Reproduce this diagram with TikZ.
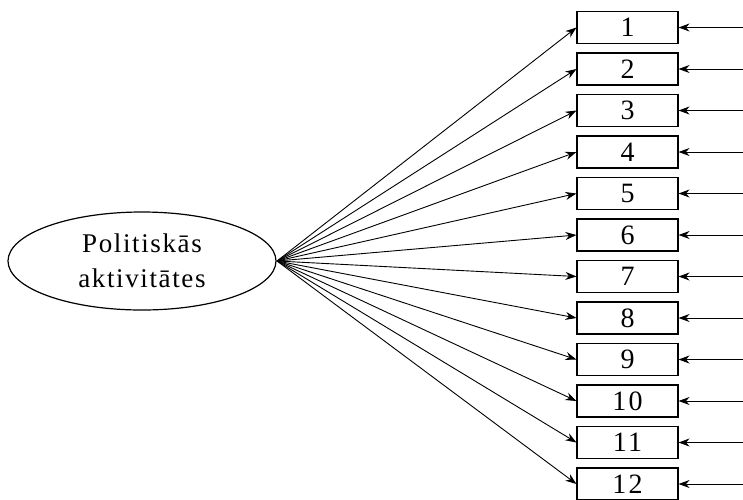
\documentclass[tikz,border=0pt]{standalone}
\usepackage{fontspec}
\setmainfont{Liberation Serif}
\newfontfamily\spaced[LetterSpace=9]{Liberation Serif}
\newfontfamily\spacedlat[LetterSpace=6]{Liberation Serif}
\usetikzlibrary{arrows.meta,shapes.geometric}
\begin{document}
\begin{tikzpicture}[x=1pt,y=-1pt,
  item/.style={draw, line width=1.1pt, minimum width=101pt, minimum height=32pt, inner sep=0pt, font=\spaced\fontsize{28}{28}\selectfont},
  lat/.style={draw, ellipse, line width=1.2pt, minimum width=268pt, minimum height=98pt, inner sep=0pt, align=center, font=\spacedlat\fontsize{27}{35}\selectfont},
  conn/.style={line width=0.9pt, -{Stealth[length=11pt,width=8pt]}}]
\useasboundingbox (0,0) rectangle (743,499);
\node[lat] (L) at (142,261) {Politiskās\\aktivitātes};
\coordinate (S) at (277,261);
\foreach \i in {1,...,12} {
  \node[item] (b\i) at (627.5,{27.5+41.5*(\i-1)}) {\i};
  \coordinate (e\i) at (743,{27.5+41.5*(\i-1)});
  \draw[conn] (S) -- (b\i.west);
  \draw[conn] (e\i) -- (b\i.east);
}
\end{tikzpicture}
\end{document}
